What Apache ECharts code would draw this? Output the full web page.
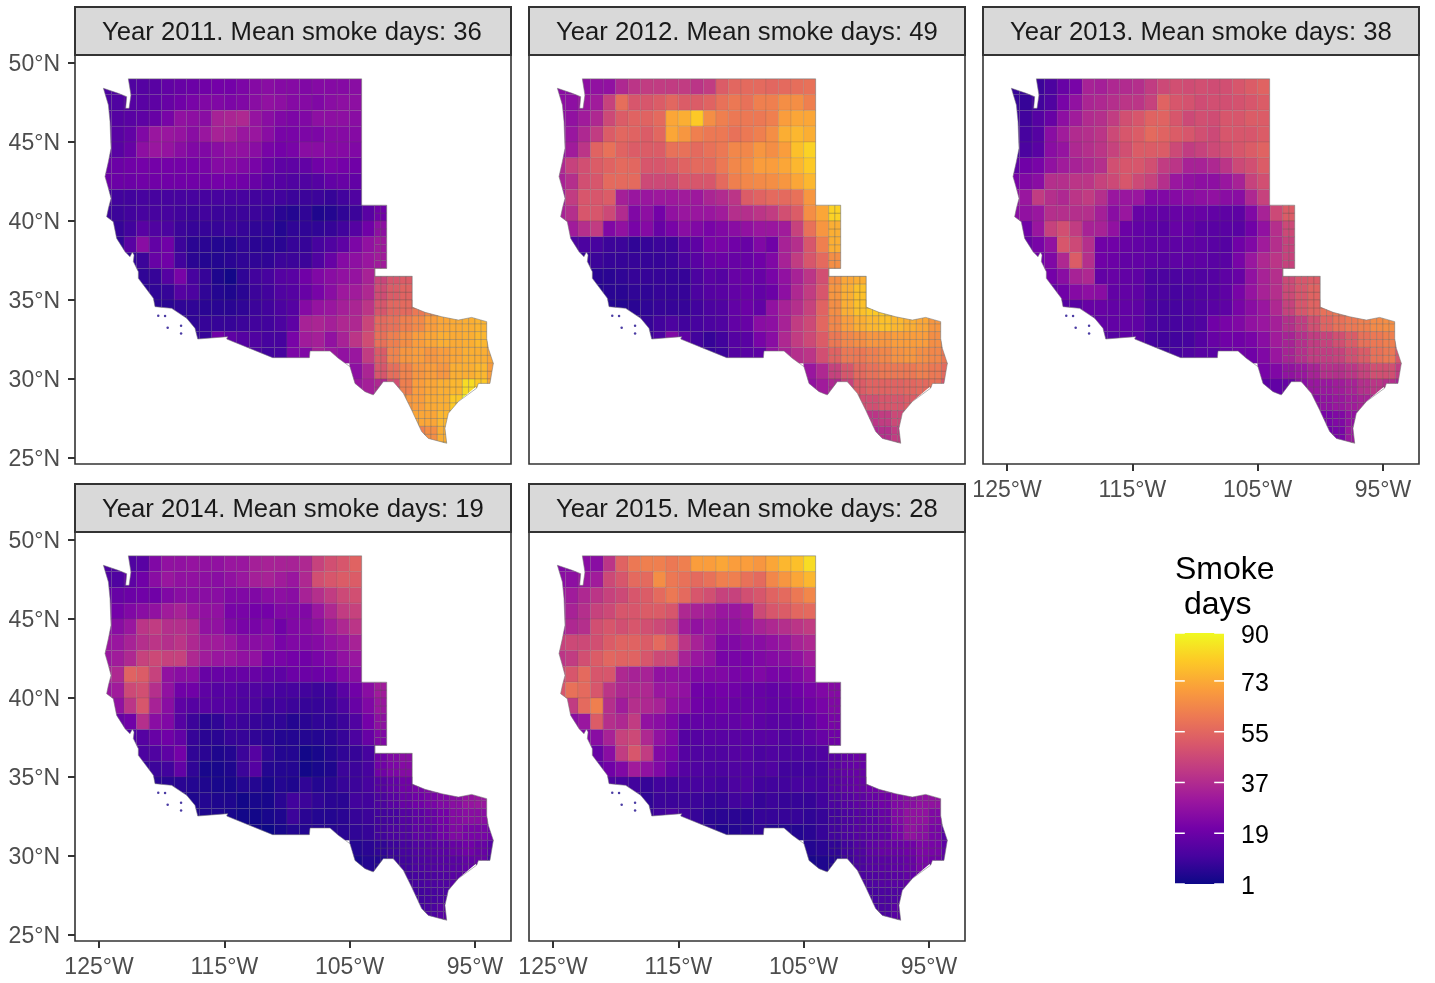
<!DOCTYPE html>
<html>
<head>
<meta charset="utf-8">
<style>html,body{margin:0;padding:0;background:#fff}#c{width:1435px;height:983px}</style>
<script src="https://cdn.jsdelivr.net/npm/echarts@6/dist/echarts.min.js"></script>
</head>
<body>
<div id="c"></div>
<script>
// Cell rows: south edge latitude, west edge longitude of first 1-degree cell
const rowLat  = [48,47,46,45,44,43,42,41,40,39,38,37,36,35,34,33,32,31,30,29,28,27,26,25];
const rowWest = [-125,-125,-125,-125,-125,-125,-125,-125,-125,-124,-124,-123,-122,-122,-121,-119,-118,-114,-105,-105,-101,-100,-100,-98];
const years = [2011,2012,2013,2014,2015];
const meanDays = [36,49,38,19,28];
const lonTicks = [-125,-115,-105,-95];
const latTicks = [25,30,35,40,45,50];
const legendTicks = [1,19,37,55,73,90];

const smoke2011 = [
[12,12,13,14,15,17,18,19,20,21,21,23,25,26,25,25,24,25,25,25,26],
[12,13,14,15,16,18,20,22,24,24,23,24,26,28,27,25,25,24,26,27,27],
[13,14,15,16,18,22,28,27,26,34,35,36,29,26,24,23,24,27,27,27,26],
[14,15,17,24,30,30,29,26,30,34,33,30,30,26,22,22,23,23,25,25,25],
[14,15,18,27,30,29,26,24,24,26,28,28,26,22,21,22,26,26,25,25,24],
[18,19,20,21,21,21,21,21,22,25,25,24,22,18,16,16,17,20,22,21,20],
[19,19,19,20,20,20,20,20,20,21,21,20,18,15,14,13,13,14,17,18,17],
[10,10,10,11,11,11,11,11,11,11,11,11,10,10,10,9,9,9,8,10,13],
[9,9,10,11,11,11,10,9,10,9,9,9,9,8,6,5,7,4,5,7,9,15,20],
[8,10,15,13,12,9,8,8,8,9,8,7,7,5,7,7,7,8,10,14,20,27],
[7,15,26,17,20,9,6,6,5,5,7,6,6,6,8,8,11,13,16,23,28,31],
[7,9,18,20,10,6,5,5,6,7,7,7,9,9,9,13,18,25,27,30,32],
[7,8,14,22,11,8,4,2,7,10,11,14,15,20,24,26,28,29,34,45,50,52],
[6,7,8,14,12,7,5,4,6,9,10,13,14,18,22,26,31,32,36,47,52,54],
[6,6,7,7,6,6,6,7,9,10,12,14,25,29,30,33,35,40,50,55,56,60,64,66],
[7,7,8,8,8,9,10,10,12,16,34,35,33,36,36,45,56,58,62,65,70,72,73,74,75,74],
[7,8,20,16,14,13,11,11,22,32,33,28,34,40,47,58,62,66,70,72,74,73,74,76,73],
[13,12,10,11,23,24,33,30,28,30,42,52,63,68,70,68,70,72,74,74,72],
[27,35,50,57,63,68,70,68,74,74,76,70],
[30,33,36,48,62,70,72,74,76,84,80,72],
[68,70,73,74,80,90],
[72,72,76,78],
[62,66,74],
[78]];

const smoke2012 = [
[26,26,27,28,28,36,40,42,42,42,42,40,42,52,55,56,56,55,56,57,58],
[27,27,30,32,44,57,50,50,52,55,52,52,54,58,60,58,62,62,66,66,62],
[27,28,32,36,46,52,54,54,56,72,74,80,66,62,60,60,60,62,70,72,72],
[27,30,36,42,52,55,54,52,55,72,68,62,60,60,58,60,62,66,74,76,74],
[28,32,40,54,58,54,52,52,52,58,58,56,58,60,64,64,68,66,70,78,82],
[36,44,48,52,54,56,55,50,50,52,54,56,56,60,64,66,70,70,72,76,80],
[34,38,48,50,56,56,56,46,46,46,50,50,50,56,62,64,65,66,68,72,76],
[32,42,50,50,52,33,30,30,31,31,32,31,35,37,40,52,54,56,56,58,68],
[34,38,50,50,46,37,24,27,21,28,30,30,30,32,38,38,40,42,48,52,66,72,82],
[32,38,42,24,28,22,25,18,22,26,24,22,24,26,28,30,30,32,44,58,68,74],
[12,12,11,9,9,7,8,9,9,14,16,22,22,20,18,24,20,34,38,50,62,74],
[8,9,8,8,8,8,8,9,12,15,18,19,18,18,20,24,34,42,50,56,66],
[6,6,7,8,8,8,8,8,12,15,14,18,18,18,22,28,34,40,48,66,72,74],
[5,6,6,7,7,8,8,8,12,14,15,17,18,17,19,27,36,42,50,68,74,78],
[5,5,6,7,8,8,8,10,12,13,17,19,17,28,34,38,44,54,66,74,78,80,80,78],
[7,8,10,12,10,11,12,13,17,18,26,27,34,42,46,55,64,70,74,76,78,76,74,72,68,66],
[8,12,24,16,10,8,10,14,15,22,26,36,42,46,52,60,64,66,68,68,70,70,70,66,64],
[10,8,9,14,15,16,28,34,38,40,48,54,60,60,62,64,67,68,66,64,60],
[30,36,44,50,56,58,60,60,60,62,60,56],
[28,32,36,44,52,54,54,54,55,56,58,50],
[48,48,50,50,52,52],
[40,42,46,48],
[36,38,42],
[44]];

const smoke2013 = [
[8,8,9,12,18,22,34,33,36,37,38,42,46,48,47,48,47,48,50,52,54],
[8,8,10,13,22,28,35,36,38,40,40,44,54,50,49,47,48,48,49,50,52],
[9,10,14,18,27,32,37,38,42,48,50,54,54,50,46,48,47,50,50,52,52],
[10,11,14,26,32,37,38,40,46,50,52,56,54,52,50,48,46,50,50,50,52],
[10,12,15,26,29,36,38,40,44,48,52,52,52,46,42,44,46,48,50,52,54],
[16,20,22,28,32,34,36,38,48,50,50,48,42,40,34,34,36,40,46,48,52],
[22,24,26,38,38,40,40,44,46,50,46,44,38,30,28,27,27,30,34,44,48],
[28,30,42,38,36,40,42,38,30,30,30,24,24,25,26,27,28,26,26,36,44],
[26,28,30,38,38,38,38,33,26,30,18,18,17,18,18,18,17,16,16,24,34,46,52],
[20,30,44,48,42,34,34,28,19,17,16,15,18,17,15,15,15,15,20,28,38,46],
[18,22,28,50,46,38,20,20,18,17,16,16,16,16,16,15,14,20,24,32,38,44],
[20,24,36,52,38,20,19,17,17,16,15,16,16,16,15,15,22,30,36,40,44],
[21,26,34,36,17,18,17,16,12,12,12,13,13,14,16,18,28,34,38,46,50,52],
[17,20,25,27,26,17,17,16,12,12,11,12,13,14,16,22,29,34,38,46,50,54],
[14,15,18,18,17,17,16,12,11,11,12,13,15,16,22,26,30,36,44,50,54,58,60,62],
[15,17,17,17,16,12,11,11,12,13,20,22,24,28,30,33,38,42,48,54,58,60,62,65,66,60],
[14,14,16,15,11,10,10,11,14,18,20,20,22,26,32,34,38,42,44,48,52,58,60,62,58],
[10,10,11,13,15,15,18,20,20,24,30,34,38,42,42,44,48,52,58,60,50],
[22,24,28,30,34,38,38,40,44,48,48,42],
[16,17,18,26,30,30,32,34,38,40,38,34],
[26,28,30,32,34,36],
[22,24,28,32],
[20,22,30],
[34]];

const smoke2014 = [
[12,12,13,15,24,28,28,29,28,28,30,30,33,34,34,34,36,44,48,50,54],
[13,13,16,20,26,30,28,28,27,26,28,30,33,34,32,30,36,48,50,52,52],
[17,18,19,20,20,24,26,26,26,26,24,24,24,26,27,26,34,38,42,46,48],
[22,21,24,26,28,32,34,30,28,28,22,22,21,21,24,24,24,30,36,42,44],
[26,26,30,40,42,38,38,36,28,28,24,22,22,24,20,24,25,27,32,36,40],
[30,30,34,38,40,38,40,36,32,32,30,26,26,26,22,24,24,25,28,30,34],
[30,32,36,44,46,44,44,36,32,30,30,28,28,22,22,21,20,22,24,28,30],
[34,36,54,52,44,28,26,26,18,18,18,18,18,16,16,19,19,19,20,24,26],
[30,32,46,48,38,28,20,20,16,14,15,13,13,12,11,11,10,9,10,15,20,26,32],
[28,40,50,34,26,16,14,15,14,14,12,12,9,10,9,8,8,9,12,18,24,30],
[18,20,38,26,24,14,9,6,7,10,9,8,7,7,5,6,7,7,9,13,21,27],
[12,14,18,20,17,8,6,6,8,8,7,6,5,5,5,5,6,8,12,18,24],
[12,13,16,21,7,6,4,5,9,14,7,5,5,2,3,5,7,8,11,20,24,26],
[8,9,10,17,7,3,3,4,9,14,5,5,5,2,3,4,9,9,11,20,23,25],
[6,6,6,5,4,3,3,5,5,3,5,4,7,5,6,8,9,11,14,17,20,22,24,24],
[4,4,5,4,4,2,3,3,6,10,9,7,6,6,10,10,12,15,18,20,22,24,26,29,30,25],
[4,4,4,3,2,2,3,4,9,6,5,5,6,8,9,10,11,14,16,18,21,25,26,26,22],
[3,2,1,3,5,5,5,5,6,7,8,10,12,13,16,16,20,24,22,22,20],
[5,6,7,9,11,13,14,15,18,20,18,14],
[3,5,5,8,10,12,13,14,15,17,18,10],
[10,11,12,13,15,16],
[10,11,12,14],
[10,12,15],
[14]];

const smoke2015 = [
[24,24,26,26,40,54,60,62,62,60,62,70,70,72,70,70,68,72,76,78,84],
[26,27,30,32,46,50,56,56,66,60,58,56,58,62,62,58,56,64,68,72,76],
[30,32,36,40,44,46,50,52,56,60,56,50,48,44,44,48,50,54,56,60,64],
[30,34,38,44,46,50,50,52,52,50,36,34,33,30,30,32,46,50,52,55,56],
[32,36,38,48,50,48,50,48,46,44,32,28,30,28,28,30,34,36,38,40,42],
[44,46,46,48,52,54,54,52,56,52,40,34,30,24,24,26,26,28,30,34,36],
[40,42,48,52,55,54,54,50,46,46,34,30,28,22,22,22,24,25,26,28,32],
[46,50,56,50,50,36,34,34,28,28,27,24,24,24,22,22,24,22,22,24,27],
[50,58,56,50,40,36,36,36,30,30,28,20,20,21,20,18,18,17,18,20,22,24,25],
[42,56,62,38,32,38,36,34,28,26,20,19,20,18,18,18,17,17,18,20,22,24],
[26,30,52,38,36,42,28,26,23,17,17,17,17,17,18,16,15,15,15,17,20,22],
[24,26,34,44,46,36,28,24,14,14,15,15,15,15,15,15,13,14,16,18,20],
[18,26,42,50,42,24,22,14,13,13,13,14,14,12,13,12,12,12,13,15,17,19],
[16,20,24,32,28,24,18,14,13,12,12,13,13,12,13,10,10,10,11,15,17,18],
[12,11,10,8,10,10,11,11,11,10,12,13,10,10,10,11,11,11,14,16,18,20,23,24],
[7,7,9,9,9,9,8,8,10,10,8,9,8,8,8,10,12,14,16,18,20,24,26,28,28,26],
[8,10,12,10,8,6,6,6,6,8,8,8,8,7,8,10,12,14,15,18,24,28,28,24,18],
[7,6,4,5,6,7,5,5,5,6,8,10,12,14,15,16,22,28,26,22,15],
[5,6,7,10,13,16,18,18,20,23,22,16],
[3,4,5,9,12,14,15,16,18,22,20,15],
[12,13,14,15,17,20],
[11,12,13,16],
[11,12,15],
[14]];

const yearValues = [smoke2011,smoke2012,smoke2013,smoke2014,smoke2015];

// Region outline, lon/lat
const outlineLon = [-124.65,-123.46,-122.79,-122.87,-122.6,-122.45,-122.66,-104.04,-104.04,-102.04,-102.04,-102.97,-102.97,-100,-100,-98.98,-97.65,-96.32,-95.26,-94.06,-94.06,-93.93,-93.53,-93.8,-94.72,-94.86,-94.95,-96.32,-97.12,-97.39,-97.25,-98.72,-99.25,-100.05,-100.71,-101.51,-102.31,-103.11,-103.77,-104.57,-104.97,-105.9,-106.56,-108.16,-108.21,-111.14,-114.81,-114.73,-117.12,-117.34,-118.0,-119.2,-120.53,-120.66,-121.86,-121.86,-122.26,-122.2,-122.34,-122.53,-122.92,-123.59,-123.86,-124.39,-124.25,-124.04,-124.25,-124.52,-124.25,-124.04,-124.12,-124.25];
const outlineLat = [48.40,48.08,47.87,47.13,47.13,47.97,49,49,41,41,37,37,36.5,36.5,34.55,34.22,33.94,33.73,33.9,33.63,32.57,31.94,30.99,29.72,29.72,29.42,29.5,28.57,27.83,26.88,25.93,26.24,26.67,28.04,29.09,29.83,29.83,28.99,29.2,29.72,30.78,31.31,31.77,31.77,31.35,31.35,32.53,32.68,32.53,33.21,33.84,34.47,34.58,35.11,36.37,36.79,37.43,37.85,38.02,37.74,38.06,38.9,39.96,40.27,40.8,41.43,42.07,42.81,43.76,44.6,46.29,47.34];
const islandLon = [-120.27,-119.73,-119.52,-118.45,-118.45];
const islandLat = [34.01,33.99,33.25,33.37,32.88];

const plasma = ['#0D0887','#47039F','#7301A8','#9C179E','#BD3786','#D8576B','#ED7953','#FA9E3B','#FDC926','#F0F921'];

const panels = [
  {l:75, t:55, xl:false, yl:true},
  {l:529,t:55, xl:false, yl:false},
  {l:983,t:55, xl:true,  yl:false},
  {l:75, t:532,xl:true,  yl:true},
  {l:529,t:532,xl:true,  yl:false}
];
const W=436,H=409,STRIP=48;
const DARK='#333333', TXT='#4D4D4D';

function cellsFor(values){
  const out=[];
  values.forEach((row,r)=>row.forEach((v,i)=>out.push([rowWest[r]+i,rowLat[r],v])));
  return out;
}
const outlinePts = outlineLon.map((x,i)=>[x,outlineLat[i]]); outlinePts.push(outlinePts[0]);

function renderCell(params,api){
  const lon=api.value(0),lat=api.value(1);
  const color=api.visual('color');
  const clip=outlinePts.map(p=>api.coord(p));
  // counties are small on the plains and in Texas: show them as half-degree divisions
  const fine = lon>=-103 && lat<41;
  const step = fine?0.5:1;
  const children=[];
  for(let a=0;a<1;a+=step)for(let b=0;b<1;b+=step){
    const p0=api.coord([lon+a,lat+b+step]),p1=api.coord([lon+a+step,lat+b]);
    children.push({type:'rect',shape:{x:p0[0],y:p0[1],width:p1[0]-p0[0],height:p1[1]-p0[1]},
      style:{fill:color,stroke:fine?'rgba(85,85,85,0.55)':'rgba(85,85,85,0.32)',lineWidth:0.5}});
  }
  return {type:'group',clipPath:{type:'polygon',shape:{points:clip}},children};
}

const grid=[],xAxis=[],yAxis=[],series=[],graphic=[];
panels.forEach((p,i)=>{
  grid.push({left:p.l,top:p.t,width:W,height:H,show:true,borderColor:DARK,borderWidth:1.6,backgroundColor:'#fff',containLabel:false});
  xAxis.push({type:'value',gridIndex:i,min:-126.915,max:-92.12,position:'bottom',splitLine:{show:false},axisLine:{show:false},
    axisTick:{show:p.xl,length:7,customValues:lonTicks,lineStyle:{color:DARK,width:2}},
    axisLabel:{show:p.xl,customValues:lonTicks,color:TXT,fontSize:23,fontFamily:'Liberation Sans',margin:15,formatter:v=>Math.abs(v)+'°W'}});
  yAxis.push({type:'value',gridIndex:i,min:24.62,max:50.506,splitLine:{show:false},axisLine:{show:false},
    axisTick:{show:p.yl,length:7,customValues:latTicks,lineStyle:{color:DARK,width:2}},
    axisLabel:{show:p.yl,customValues:latTicks,color:TXT,fontSize:23,fontFamily:'Liberation Sans',margin:15,verticalAlign:'top',lineHeight:4,formatter:v=>v+'°N'}});
  series.push({type:'custom',xAxisIndex:i,yAxisIndex:i,coordinateSystem:'cartesian2d',silent:true,animation:false,
    encode:{x:0,y:1},renderItem:renderCell,data:cellsFor(yearValues[i]),z:2});
  series.push({type:'line',xAxisIndex:i,yAxisIndex:i,data:outlinePts,showSymbol:false,silent:true,animation:false,
    lineStyle:{color:'rgba(120,120,120,0.8)',width:0.7},z:3});
  series.push({type:'scatter',xAxisIndex:i,yAxisIndex:i,data:islandLon.map((x,k)=>[x,islandLat[k]]),symbolSize:2.5,silent:true,animation:false,
    itemStyle:{color:'#1d0a8c'},z:3});
  graphic.push({type:'rect',z:10,shape:{x:p.l,y:p.t-STRIP,width:W,height:STRIP},style:{fill:'#D9D9D9',stroke:DARK,lineWidth:2}});
  graphic.push({type:'text',left:p.l+27,top:p.t-STRIP+13,z:11,style:{text:'Year '+years[i]+'. Mean smoke days: '+meanDays[i],fontSize:25.7,fontFamily:'Liberation Sans',fill:'#1A1A1A'}});
});

// legend: colour ramp and ticks on their own small value axis
const LG=panels.length;
grid.push({left:1175,top:633,width:49,height:251,show:false});
xAxis.push({type:'value',gridIndex:LG,show:false,min:0,max:1});
yAxis.push({type:'value',gridIndex:LG,position:'right',min:1,max:90,splitLine:{show:false},axisLine:{show:false},axisTick:{show:false},
  axisLabel:{show:true,customValues:legendTicks,color:'#000',fontSize:25,fontFamily:'Liberation Sans',margin:17,verticalAlign:'top',lineHeight:6}});
series.push({type:'custom',xAxisIndex:LG,yAxisIndex:LG,coordinateSystem:'cartesian2d',silent:true,animation:false,z:1,encode:{x:[0,1],y:[2,3]},data:[[0,1,legendTicks[0],legendTicks[5]]],
  renderItem:(params,api)=>{
    const a=api.coord([api.value(0),api.value(3)]),b=api.coord([api.value(1),api.value(2)]);
    return {type:'rect',shape:{x:a[0],y:a[1],width:b[0]-a[0],height:b[1]-a[1]},
      style:{fill:{type:'linear',x:0,y:1,x2:0,y2:0,colorStops:plasma.map((c,i)=>({offset:i/(plasma.length-1),color:c}))}}};
  }});
series.push({type:'custom',xAxisIndex:LG,yAxisIndex:LG,coordinateSystem:'cartesian2d',silent:true,animation:false,z:2,encode:{y:0},data:legendTicks.map(v=>[v]),
  renderItem:(params,api)=>{
    const v=api.value(0),style={stroke:'#fff',lineWidth:1.5};
    const a=api.coord([0,v]),b=api.coord([0.2,v]),c=api.coord([0.8,v]),d=api.coord([1,v]);
    return {type:'group',children:[
      {type:'line',shape:{x1:a[0],y1:a[1],x2:b[0],y2:b[1]},style},
      {type:'line',shape:{x1:c[0],y1:c[1],x2:d[0],y2:d[1]},style}]};
  }});
graphic.push({type:'text',left:1175,top:554,z:11,style:{text:'Smoke',fontSize:32,fontFamily:'Liberation Sans',fill:'#000'}});
graphic.push({type:'text',left:1184,top:589,z:11,style:{text:'days',fontSize:32,fontFamily:'Liberation Sans',fill:'#000'}});

const chart=echarts.init(document.getElementById('c'),null,{renderer:'canvas'});
chart.setOption({
  animation:false,backgroundColor:'#fff',
  grid,xAxis,yAxis,series,graphic,
  visualMap:{type:'continuous',show:false,min:1,max:90,dimension:2,seriesIndex:panels.map((p,i)=>i*3),inRange:{color:plasma}}
});
</script>
</body>
</html>
